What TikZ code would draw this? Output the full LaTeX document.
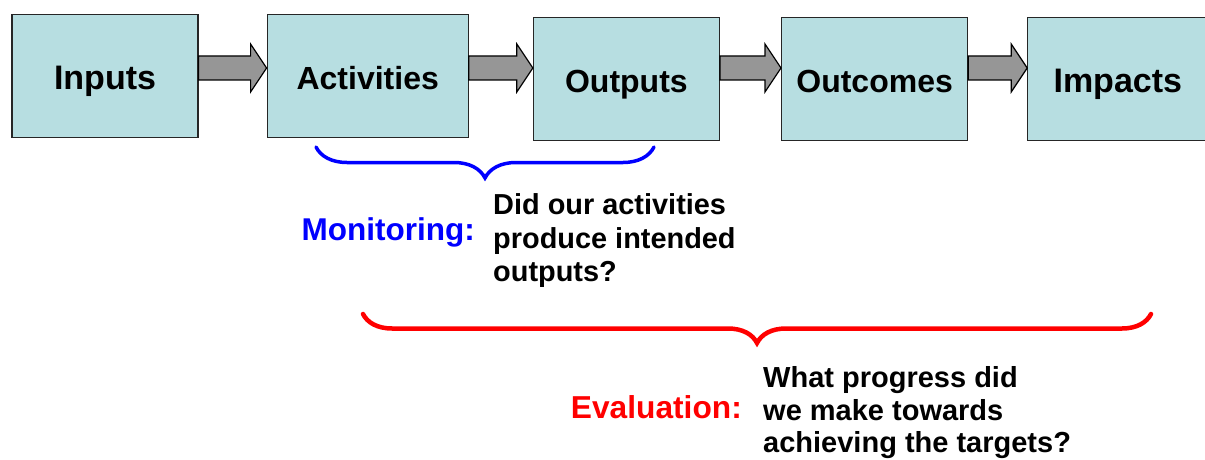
\documentclass[tikz,border=0pt]{standalone}
\usepackage{fontspec}
\setmainfont{Liberation Sans}
\usepackage{tikz}
\usetikzlibrary{arrows.meta,positioning,calc,decorations.pathreplacing}
\definecolor{StageFill}{HTML}{B7DEE1}
\definecolor{ArrowGray}{HTML}{969696}

\tikzset{
  stage/.style={draw=black!85,line width=1.2pt,fill=StageFill,minimum height=123pt,
    inner sep=0pt,text height=27pt,text depth=0pt,font=\bfseries\fontsize{32}{38}\selectfont},
  flowarrow/.style={draw=black,line width=1.2pt,fill=ArrowGray,line join=miter},
  bracket/.style={decorate,line cap=round,decoration={brace,mirror,amplitude=#1}},
  tag/.style={inner sep=0pt,font=\bfseries\fontsize{31.5}{38}\selectfont},
  question/.style={inner sep=0pt,align=left,font=\bfseries\fontsize{28.9}{33.5}\selectfont}
}

% fat grey arrow from the east side of #1 to the west side of #2
\newcommand{\flowarrow}[2]{%
  \draw[flowarrow] let \p1=(#1.east), \p2=(#2.west) in
    (\x1,56) -- (\x2-16,56) -- (\x2-16,44) -- (\x2,68) -- (\x2-16,92)
    -- (\x2-16,80) -- (\x1,80) -- cycle;}

\begin{document}
\begin{tikzpicture}[x=1pt,y=-1pt]
    \useasboundingbox (0,0) rectangle (1205,460);
    % the five stages
    \node[stage,minimum width=186pt,font=\bfseries\fontsize{34}{40}\selectfont] (inputs) at (105,76) {Inputs};
    \node[stage,minimum width=201pt,right=68pt of inputs] (activities) {Activities};
    \node[stage,minimum width=186pt,right=64pt of activities,yshift=-3pt] (outputs) {Outputs};
    \node[stage,minimum width=186pt,right=61pt of outputs] (outcomes) {Outcomes};
    \node[stage,minimum width=180pt,right=59pt of outcomes,font=\bfseries\fontsize{34}{40}\selectfont] (impacts) {Impacts};
    \flowarrow{inputs}{activities}
    \flowarrow{activities}{outputs}
    \flowarrow{outputs}{outcomes}
    \flowarrow{outcomes}{impacts}

    % monitoring brace
    \coordinate (monL) at (316,147);
    \coordinate (monR) at (654,147);
    \draw[bracket=31pt,blue,line width=3.5pt] (monL) -- (monR);
    \coordinate (montip) at ($(monL)!.5!(monR)$);
    \node[tag,text=blue,anchor=base east] (monlbl) at ($(montip)+(-10,93)$) {Monitoring:};
    \node[question,anchor=west] (monq) at ($(montip)+(8,94)$) {Did our activities\\produce intended\\outputs?};

    % evaluation brace
    \coordinate (evalL) at (363,314);
    \coordinate (evalR) at (1151,314);
    \draw[bracket=29pt,red,line width=4.5pt] (evalL) -- (evalR);
    \coordinate (evaltip) at ($(evalL)!.5!(evalR)$);
    \node[tag,text=red,font=\bfseries\fontsize{31.7}{38}\selectfont,anchor=base east] (evallbl) at ($(evaltip)+(-15,104.5)$) {Evaluation:};
    \node[question,font=\bfseries\fontsize{29}{32.5}\selectfont,anchor=west] (evalq) at ($(evaltip)+(6,99)$) {What progress did\\we make towards\\achieving the targets?};
  \end{tikzpicture}
\end{document}
